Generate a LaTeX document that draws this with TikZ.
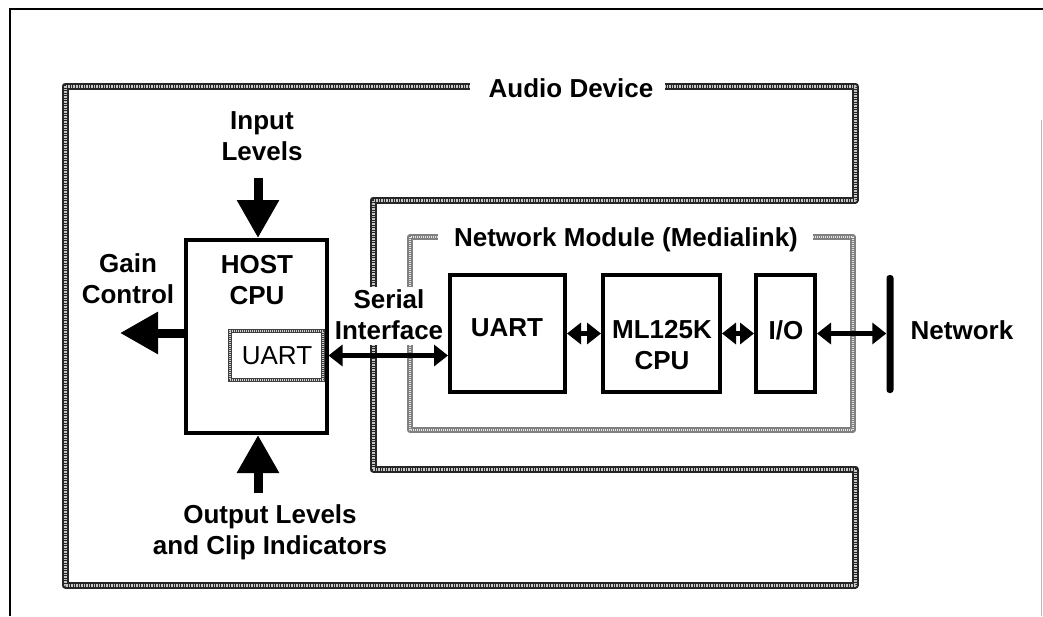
\documentclass[tikz,border=0pt]{standalone}
\usepackage{fontspec}
\setmainfont{Liberation Sans}
\usetikzlibrary{arrows.meta}
\begin{document}
\begin{tikzpicture}[x=1pt,y=-1pt,
  lbl/.style={font=\fontsize{26}{31}\selectfont\bfseries, align=center, inner sep=0pt},
  lblreg/.style={font=\fontsize{26}{31}\selectfont, align=center, inner sep=0pt},
  blk/.style={draw=black, line width=4pt, inner sep=0pt, minimum width=#1, minimum height=117pt},
  audline/.style={line width=7pt, draw=black!85, line join=round,
     postaction={draw=gray!45, line width=3pt, dash pattern=on 1.5pt off 1pt}},
  netline/.style={line width=5.5pt, draw=black!50, line join=round,
     postaction={draw=gray!20, line width=2.5pt, dash pattern=on 1pt off 1pt}},
  bigarrow/.style={line width=9pt, -{Triangle[width=40pt,length=38pt]}},
  smallarrow/.style={line width=4.5pt, {Triangle[width=21pt,length=14pt]}-{Triangle[width=21pt,length=14pt]}}
]
\useasboundingbox[fill=white] (0,0) rectangle (1043,616);
% outer frame
\draw[line width=1.5pt] (10,616) -- (10,9) -- (1043,9);
\draw[gray!55, line width=1pt] (1041,120) -- (1041,616);

% Audio Device boundary
\draw[audline] (470,86) -- (65,86) -- (65,585) -- (855,585) -- (855,469) -- (373,469) -- (373,345);
\draw[audline] (373,287) -- (373,200) -- (855,200) -- (855,86) -- (665,86);
\node[lbl] (audio) at (571,88) {Audio Device};

% Network Module boundary
\draw[netline] (438,237) -- (410,237) -- (410,287);
\draw[netline] (410,345) -- (410,430) -- (853,430) -- (853,237) -- (813,237);
\node[lbl] (netmod) at (626,240) {Network Module (Medialink)};

% Host CPU
\node[inner sep=0pt, minimum width=93pt, minimum height=49pt, line width=4pt, draw=black!75,
      postaction={draw=gray!35, line width=2pt, dash pattern=on 1pt off 1pt}] (huart) at (276.5,355.5) {};
\node[lblreg] (huarttxt) at (277,356) {UART};
\node[draw=black, line width=4pt, inner sep=0pt, minimum width=141pt, minimum height=193pt] (host) at (256,336.5) {};
\node[lbl] (hosttxt) at (257,280) {HOST\\CPU};

% Input / Output / Gain
\node[lbl] (inlbl) at (262,136) {Input\\Levels};
\coordinate (intop) at (258,178);
\draw[bigarrow] (intop) -- (intop |- host.north);
\node[lbl] (outlbl) at (270,532) {Output Levels\\and Clip Indicators};
\coordinate (outbot) at (258,493);
\draw[bigarrow] (outbot) -- (outbot |- host.south);
\node[lbl] (gainlbl) at (128,279) {Gain\\Control};
\coordinate (gaintip) at (120,333);
\draw[bigarrow] (gaintip -| host.west) -- (gaintip);

% Network module blocks
\node[blk=115pt] (uart) at (507.5,333.5) {};
\node[lbl] (uarttxt) at (507,328) {UART};
\node[blk=117pt] (ml) at (661.5,333.5) {};
\node[lbl] (mltxt) at (662,345) {ML125K\\CPU};
\node[blk=59pt] (io) at (785.5,333.5) {};
\node[lbl] (iotxt) at (786,330) {I/O};
\node[fill=black, inner sep=0pt, minimum width=7pt, minimum height=118pt, rounded corners=3pt] (bar) at (890,334) {};
\node[lbl] (nettxt) at (962,330) {Network};

% Serial interface
\node[lbl] (serial) at (389,315) {Serial\\Interface};
\draw[smallarrow] (huart.east -| host.east) -- (huart.east -| uart.west);
\draw[smallarrow] (uart.east) -- (ml.west);
\draw[smallarrow] (ml.east) -- (io.west);
\draw[smallarrow] (io.east) -- (io.east -| bar.west);
\end{tikzpicture}
\end{document}
